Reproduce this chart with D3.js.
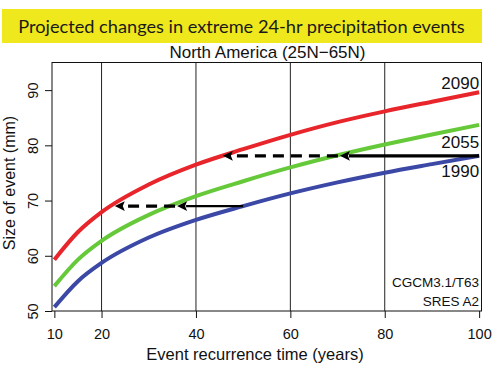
<!DOCTYPE html>
<html lang="en">
    <head>
        <meta charset="utf-8">
        <title>Extreme precipitation</title>
        <script src="https://d3js.org/d3.v7.min.js"></script>
        <style>
            body { margin: 0; background: #fff; }
            svg { display: block; }
        </style>
    </head>
    <body>
        <script type="text/javascript">

            // data
            var years = [10, 15, 20, 30, 40, 50, 60, 70, 80, 90, 100];
            var s1990 = [50.7, 55.4, 58.7, 63.3, 66.5, 69.0, 71.3, 73.3, 75.05, 76.6, 78.1];
            var s2055 = [54.5, 59.3, 62.7, 67.4, 70.8, 73.5, 76.0, 78.2, 80.15, 81.95, 83.7];
            var s2090 = [59.3, 64.3, 67.9, 72.9, 76.5, 79.3, 81.9, 84.2, 86.15, 87.9, 89.6];
            var seriesNames = ["1990", "2055", "2090"];
            var seriesColors = ["#3b48a5", "#66c93a", "#e8252b"];

            var xTicks = [10, 20, 40, 60, 80, 100];
            var yTicks = [50, 60, 70, 80, 90];
            var gridYears = [20, 40, 60, 80];

            // arrows: level, solid start, switch to dashed, dashed end
            var arrowLevel = [69, 78.1];
            var arrowStart = [50, 100];
            var arrowMid = [36, 70.5];
            var arrowEnd = [22.8, 45.7];

            var w = 501;
            var h = 367;
            var box = {left: 52, right: 481.5, top: 62.5, bottom: 311};

            var xScale = d3.scaleLinear()
                .domain([9.5, 100.5])
                .range([box.left, box.right]);

            var yScale = d3.scaleLinear()
                .domain([50, 95])
                .range([box.bottom, box.top]);

            var svg = d3.select("body")
                .append("svg")
                .attr("width", w)
                .attr("height", h);

            // title band
            svg.append("rect")
                .attr("x", 2)
                .attr("y", 9)
                .attr("width", 480)
                .attr("height", 34)
                .attr("fill", "#efe81d");

            var title = svg.append("text")
                .attr("x", 241.5)
                .attr("y", 33)
                .attr("text-anchor", "middle")
                .attr("font-family", "Lato, 'Open Sans', sans-serif")
                .attr("font-size", "19px")
                .attr("fill", "#1a1a1a")
                .text("Projected changes in extreme 24-hr precipitation events");

            //squeeze title to the width seen in the picture
            var tl = title.node().getComputedTextLength();
            title.attr("font-size", (19 * 447 / tl) + "px");

            svg.append("text")
                .attr("x", 267.5)
                .attr("y", 57.5)
                .attr("text-anchor", "middle")
                .attr("font-family", "'Liberation Sans', Arial, sans-serif")
                .attr("font-size", "17px")
                .attr("fill", "#111")
                .text("North America (25N\u221265N)");

            // vertical lines
            svg.selectAll("line.grid")
                .data(gridYears)
                .enter()
                .append("line")
                .attr("class", "grid")
                .attr("x1", function(d) { return xScale(d); })
                .attr("x2", function(d) { return xScale(d); })
                .attr("y1", box.top)
                .attr("y2", box.bottom)
                .attr("stroke", "#222")
                .attr("stroke-width", 1);

            // curves
            var allSeries = [s1990, s2055, s2090];
            var line = d3.line()
                .x(function(d, i) { return xScale(years[i]); })
                .y(function(d) { return yScale(d); })
                .curve(d3.curveMonotoneX);

            svg.selectAll("path.curve")
                .data(allSeries)
                .enter()
                .append("path")
                .attr("class", "curve")
                .attr("d", line)
                .attr("fill", "none")
                .attr("stroke", function(d, i) { return seriesColors[i]; })
                .attr("stroke-width", 4);

            // arrows
            var headLen = 10, headHalf = 4.8;
            var solidWidth = [2.2, 3.4];
            arrowLevel.forEach(function(v, i) {
                var y = yScale(v);
                svg.append("line")
                    .attr("x1", xScale(arrowStart[i]))
                    .attr("x2", xScale(arrowMid[i]) + headLen - 1)
                    .attr("y1", y).attr("y2", y)
                    .attr("stroke", "#000")
                    .attr("stroke-width", solidWidth[i]);
                svg.append("line")
                    .attr("x1", xScale(arrowMid[i]) - 2)
                    .attr("x2", xScale(arrowEnd[i]) + headLen - 1)
                    .attr("y1", y).attr("y2", y)
                    .attr("stroke", "#000")
                    .attr("stroke-width", 3.2)
                    .attr("stroke-dasharray", "11,7");
                [arrowMid[i], arrowEnd[i]].forEach(function(t) {
                    var x = xScale(t);
                    svg.append("path")
                        .attr("d", "M" + x + "," + y + "L" + (x + headLen) + "," + (y - headHalf) +
                            "L" + (x + headLen - 2) + "," + y +
                            "L" + (x + headLen) + "," + (y + headHalf) + "Z")
                        .attr("fill", "#000");
                });
            });

            // series labels at the right end
            var labelFont = "'Liberation Sans', Arial, sans-serif";
            var yEnd1990 = yScale(s1990[s1990.length - 1]);
            var yEnd2090 = yScale(s2090[s2090.length - 1]);
            var labelY = [yEnd1990 + 21, yEnd1990 - 8, yEnd2090 - 3];
            seriesNames.forEach(function(name, i) {
                svg.append("text")
                    .attr("x", xScale(100))
                    .attr("y", labelY[i])
                    .attr("text-anchor", "end")
                    .attr("font-family", labelFont)
                    .attr("font-size", "17px")
                    .attr("fill", "#111")
                    .text(name);
            });

            // model notes
            svg.append("text")
                .attr("x", xScale(100))
                .attr("y", 287)
                .attr("text-anchor", "end")
                .attr("font-family", labelFont)
                .attr("font-size", "13.5px")
                .attr("fill", "#111")
                .text("CGCM3.1/T63");
            svg.append("text")
                .attr("x", xScale(100))
                .attr("y", 306)
                .attr("text-anchor", "end")
                .attr("font-family", labelFont)
                .attr("font-size", "13.5px")
                .attr("fill", "#111")
                .text("SRES A2");

            // plot box
            svg.append("rect")
                .attr("x", box.left)
                .attr("y", box.top)
                .attr("width", box.right - box.left)
                .attr("height", box.bottom - box.top)
                .attr("fill", "none")
                .attr("stroke", "#111")
                .attr("stroke-width", 1);

            // axes
            var xAxis = d3.axisBottom(xScale).tickValues(xTicks).tickSize(7).tickFormat(d3.format("d"));
            var gx = svg.append("g")
                .attr("transform", "translate(0," + box.bottom + ")")
                .call(xAxis);
            gx.select(".domain").remove();
            gx.selectAll(".tick line").attr("stroke", "#111");
            gx.selectAll(".tick text")
                .attr("y", 28)
                .attr("dy", 0)
                .attr("font-family", labelFont)
                .attr("font-size", "14.5px")
                .attr("fill", "#111");

            var yAxis = d3.axisLeft(yScale).tickValues(yTicks).tickSize(7);
            var gy = svg.append("g")
                .attr("transform", "translate(" + box.left + ",0)")
                .call(yAxis);
            gy.select(".domain").remove();
            gy.selectAll(".tick line").attr("stroke", "#111");
            gy.selectAll(".tick text")
                .attr("transform", "rotate(-90)")
                .attr("x", 0)
                .attr("y", -14)
                .attr("dy", 0)
                .attr("text-anchor", "middle")
                .attr("font-family", labelFont)
                .attr("font-size", "14.5px")
                .attr("fill", "#111");

            // axis titles
            svg.append("text")
                .attr("x", 255)
                .attr("y", 360)
                .attr("text-anchor", "middle")
                .attr("font-family", labelFont)
                .attr("font-size", "16.5px")
                .attr("fill", "#111")
                .text("Event recurrence time (years)");

            svg.append("text")
                .attr("transform", "translate(15,183) rotate(-90)")
                .attr("text-anchor", "middle")
                .attr("font-family", labelFont)
                .attr("font-size", "16px")
                .attr("fill", "#111")
                .text("Size of event (mm)");

        </script>
    </body>
</html>
